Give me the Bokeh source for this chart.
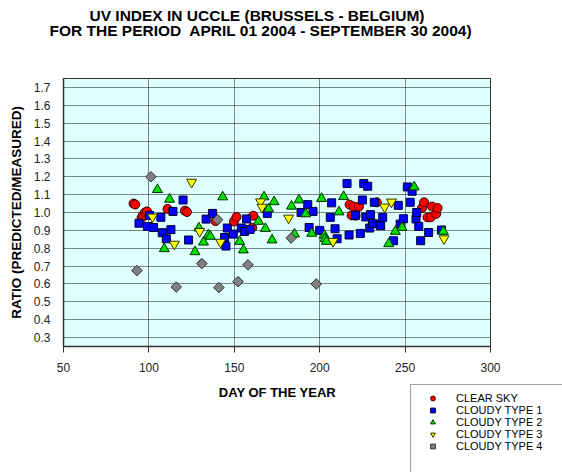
from bokeh.plotting import figure
from bokeh.layouts import column, row
from bokeh.models import Range1d, Title, Label, Legend, LegendItem, FixedTicker, NumeralTickFormatter
from bokeh.embed import file_html
from bokeh.resources import INLINE

# ---------------- data ----------------
title_1 = "UV INDEX IN UCCLE (BRUSSELS - BELGIUM)"
title_2 = "FOR THE PERIOD\u00a0 APRIL 01 2004 - SEPTEMBER 30 2004)"
x_label = "DAY OF THE YEAR"
y_label = "RATIO (PREDICTED/MEASURED)"
x_ticks = [50, 100, 150, 200, 250, 300]
y_ticks = [0.3, 0.4, 0.5, 0.6, 0.7, 0.8, 0.9, 1.0, 1.1, 1.2, 1.3, 1.4, 1.5, 1.6, 1.7]

clear_day = [91, 92, 95.7, 96.5, 97.7, 98.9, 110.9, 121.1, 122.3, 139, 149.8, 151.3,
             160.5, 161.1, 217.5, 218.7, 219.9, 221, 223, 233.4, 259.9, 261.1, 263.1,
             265, 265.8, 268.2, 269]
clear_ratio = [1.05, 1.045, 0.97, 0.985, 1.0, 1.006, 1.02, 1.01, 1.003, 0.952, 0.95, 0.975,
               0.915, 0.982, 1.044, 0.984, 1.033, 0.982, 1.033, 1.057, 1.025, 1.057, 0.973,
               0.973, 1.033, 0.992, 1.025]

c1_day = [94.2, 99.2, 100.4, 102.7, 107, 107.8, 110.2, 112.9, 114.1, 120, 123.2, 133.5,
          137.3, 144.3, 145.1, 145.9, 149.4, 154.1, 156, 157.2, 159.2, 169.3, 189.1, 193,
          193.8, 196.1, 200, 206.2, 207, 209, 210.2, 216, 217.2, 221, 223.8, 225, 225.8,
          227, 228.1, 229.3, 229.7, 230.9, 232, 234.9, 235.7, 236.9, 243.2, 246, 247.1,
          249, 251.3, 253, 254.1, 256.4, 256.8, 258, 259.1, 263.8, 271.3]
c1_ratio = [0.94, 0.922, 0.984, 0.916, 0.973, 0.887, 0.853, 0.904, 1.006, 1.07, 0.846, 0.963,
            0.995, 0.86, 0.812, 0.913, 0.879, 0.913, 0.894, 0.964, 0.905, 0.995, 1.0, 1.044,
            0.916, 1.006, 0.9, 0.973, 1.054, 0.909, 0.853, 1.162, 0.874, 0.984, 0.883, 1.07, 1.162,
            0.975, 1.147, 0.913, 0.988, 0.939, 1.057, 0.935, 0.926, 0.973, 0.842, 1.04, 0.935,
            0.965, 1.143, 1.057, 1.119, 0.964, 1.0, 0.922, 0.842, 0.888, 0.902]

c2_day = [105, 112.1, 109, 127, 129.3, 132, 134.8, 136, 143.2, 153.1, 155.3, 164.2, 167.4,
          168.2, 170.1, 172.1, 173.3, 183.5, 185.2, 187.9, 191.8, 195.3, 201.1, 202.7, 203.1,
          203.9, 211.3, 214, 240.4, 244.3, 248.2, 255.3, 272.4]
c2_ratio = [1.128, 1.074, 0.797, 0.78, 0.913, 0.834, 0.874, 0.866, 1.087, 0.838, 0.79, 0.95, 1.087,
            0.91, 1.02, 0.846, 1.06, 1.035, 0.879, 1.07, 0.992, 0.883, 1.078, 0.872, 0.853,
            0.838, 1.003, 1.089, 0.825, 0.894, 0.916, 1.143, 0.894]

c3_day = [102.1, 114.9, 125, 129.7, 142, 165.4, 166.2, 181.8, 207.8, 238, 242, 272.8]
c3_ratio = [0.975, 0.823, 1.17, 0.894, 0.834, 1.06, 1.03, 0.969, 0.838, 1.031, 1.059, 0.853]

c4_day = [93, 101.2, 116, 131, 140.2, 141, 152.2, 158, 183.3, 198]
c4_ratio = [0.675, 1.2, 0.583, 0.714, 0.96, 0.58, 0.613, 0.707, 0.857, 0.6]

series_names = ["CLEAR SKY", "CLOUDY TYPE 1", "CLOUDY TYPE 2", "CLOUDY TYPE 3", "CLOUDY TYPE 4"]

FONT = "Liberation Sans"
styles = [
    dict(marker="circle", size=9, fill_color="#FF0000", line_color="#330000", angle=0),
    dict(marker="square", size=8, fill_color="#0000FF", line_color="#000033", angle=0),
    dict(marker="triangle", size=10, fill_color="#00DD00", line_color="#003300", angle=0),
    dict(marker="inverted_triangle", size=10, fill_color="#FFFF00", line_color="#333300", angle=0),
    dict(marker="square", size=7.5, fill_color="#808080", line_color="#333333", angle=45),
]
series = [(clear_day, clear_ratio), (c1_day, c1_ratio), (c2_day, c2_ratio),
          (c3_day, c3_ratio), (c4_day, c4_ratio)]

# ---------------- main plot ----------------
p = figure(width=562, height=383, output_backend="svg", toolbar_location=None,
           x_range=Range1d(50, 300), y_range=Range1d(0.25, 1.75),
           min_border_left=63, min_border_right=72, min_border_top=78, min_border_bottom=37)
p.background_fill_color = "#E0FFFF"
p.border_fill_color = "white"
p.outline_line_color = "#333333"
p.outline_line_width = 1

p.xaxis.ticker = FixedTicker(ticks=x_ticks)
p.yaxis.ticker = FixedTicker(ticks=y_ticks)
p.yaxis.formatter = NumeralTickFormatter(format="0.0")
p.xaxis.minor_tick_line_color = None
p.yaxis.minor_tick_line_color = None
p.xaxis.major_tick_out = 6
p.xaxis.major_tick_in = 0
p.yaxis.major_tick_out = 0
p.yaxis.major_tick_in = 0
for ax in (p.xaxis, p.yaxis):
    ax.axis_line_color = "#333333"
    ax.axis_line_width = 1.5
    ax.major_tick_line_color = "#333333"
    ax.major_label_text_font = FONT
    ax.major_label_text_font_size = "12px"
    ax.major_label_text_color = "#222222"
p.xaxis.major_label_standoff = 10
p.yaxis.major_label_standoff = 13
p.yaxis.axis_label = y_label
p.yaxis.axis_label_text_font = FONT
p.yaxis.axis_label_text_font_style = "bold"
p.yaxis.axis_label_text_font_size = "13.5px"
p.yaxis.axis_label_text_color = "black"
p.yaxis.axis_label_standoff = 7

p.xgrid.ticker = FixedTicker(ticks=[100, 150, 200, 250])
p.ygrid.ticker = FixedTicker(ticks=y_ticks)
for g in (p.xgrid, p.ygrid):
    g.grid_line_color = "#111111"
    g.grid_line_dash = "1 1"
    g.grid_line_width = 1

for (xs, ys), st in zip(series, styles):
    p.scatter(xs, ys, line_width=1, angle_units="deg", **st)

# titles stacked outward from the frame: spacer, second line, first line
p.add_layout(Title(text=" ", standoff=29, text_font=FONT, text_font_size="10px",
                   text_color="white"), "above")
p.add_layout(Title(text=title_2, align="left", offset=-14, standoff=-4, text_font=FONT,
                   text_font_style="bold", text_font_size="15.5px", text_color="black"), "above")
p.add_layout(Title(text=title_1, align="left", offset=26, standoff=-4, text_font=FONT,
                   text_font_style="bold", text_font_size="15.5px", text_color="black"), "above")

# ---------------- x-axis title strip (frame fills the whole strip) ----------------
q = figure(width=409, height=89, output_backend="svg", toolbar_location=None, title=None,
           x_axis_location=None, y_axis_location=None, min_border=0,
           x_range=Range1d(0, 1), y_range=Range1d(0, 1))
q.outline_line_color = None
q.background_fill_color = "white"
q.border_fill_color = "white"
q.grid.visible = False
q.add_layout(Label(x=277, y=80, x_units="screen", y_units="screen", text=x_label,
                   text_align="center", text_baseline="middle", text_font=FONT,
                   text_font_style="bold", text_font_size="13px", text_color="black"))

# ---------------- legend strip ----------------
# proxy renderers: each uses its series' first point, which lies outside this strip's ranges
L = figure(width=153, height=89, output_backend="svg", toolbar_location=None, title=None,
           x_axis_location=None, y_axis_location=None, min_border=0,
           x_range=Range1d(0, 1), y_range=Range1d(0, 1))
L.outline_line_color = None
L.background_fill_color = "white"
L.border_fill_color = "white"
L.grid.visible = False
items = []
for name, (xs, ys), st in zip(series_names, series, styles):
    r = L.scatter(xs[:1], ys[:1], line_width=1, angle_units="deg", **st)
    items.append(LegendItem(label=name, renderers=[r]))
blank = L.scatter(c4_day[:1], c4_ratio[:1], marker="circle", fill_color=None, line_color=None)
items.append(LegendItem(label=" ", renderers=[blank]))
items.append(LegendItem(label=" ", renderers=[blank]))
legend = Legend(items=items, location="top_left", orientation="vertical",
                label_text_font=FONT, label_text_font_size="11px", label_text_color="black",
                glyph_width=29, glyph_height=12, label_height=12, label_width=150,
                label_standoff=9, spacing=0, padding=7, margin=1,
                border_line_color="#444444", border_line_width=1,
                background_fill_color="white", background_fill_alpha=1)
L.add_layout(legend, "center")

layout = column(p, row(q, L))
open("out.html", "w").write(file_html(layout, INLINE))
